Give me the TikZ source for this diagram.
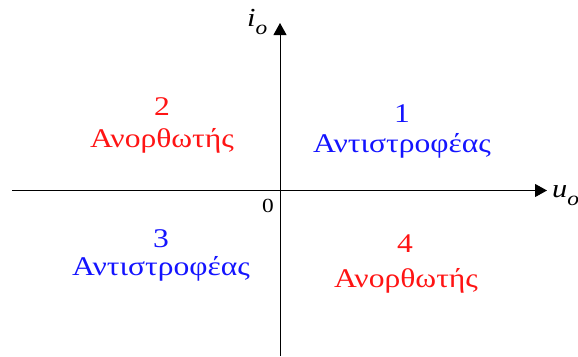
\documentclass[tikz,border=0pt]{standalone}
\usepackage{graphicx}
\usepackage{fontspec}
\setmainfont{Liberation Serif}
\newfontfamily\grkfont[Script=Greek]{Liberation Serif}
\usetikzlibrary{arrows.meta}
\definecolor{qblue}{RGB}{20,20,255}
\definecolor{qred}{RGB}{255,20,20}
\newcommand{\widetxt}[1]{\scalebox{1.17}[1]{#1}}
\begin{document}
\begin{tikzpicture}[x=1pt,y=-1pt,
  axis/.style={line width=1pt,-{Triangle[length=12pt,width=13pt]}},
  lbl/.style={font=\grkfont\fontsize{27}{30}\selectfont,inner sep=0pt,anchor=base},
  ax/.style={font=\fontsize{26}{28}\selectfont\itshape,inner sep=0pt,anchor=base west}]
\useasboundingbox (0,0) rectangle (578,356);
\coordinate (ybot) at (280,356);
\coordinate (ytop) at (280,23);
\coordinate (xl) at (12,190.5);
\coordinate (xr) at (547,190.5);
\draw[axis] (ybot) -- (ytop);
\draw[axis] (xl) -- (xr);
\node[ax] (io) at (247,27) {\widetxt{i\raisebox{-8pt}{\fontsize{20}{20}\selectfont o}}};
\node[ax] (uo) at (552,197) {\widetxt{u\raisebox{-8pt}{\fontsize{20}{20}\selectfont o}}};
\node[font=\fontsize{20}{22}\selectfont,inner sep=0pt,anchor=base] (zero) at (268,212) {\widetxt{0}};
\node[lbl,text=qred] (n2) at (162,115) {\widetxt{2}};
\node[lbl,text=qred] (w2) at (162,147) {\widetxt{Ανορθωτής}};
\node[lbl,text=qblue] (n1) at (402,122) {\widetxt{1}};
\node[lbl,text=qblue] (w1) at (402,152) {\widetxt{Αντιστροφέας}};
\node[lbl,text=qblue] (n3) at (161,247) {\widetxt{3}};
\node[lbl,text=qblue] (w3) at (161,275) {\widetxt{Αντιστροφέας}};
\node[lbl,text=qred] (n4) at (405,252) {\widetxt{4}};
\node[lbl,text=qred] (w4) at (406,287) {\widetxt{Ανορθωτής}};
\end{tikzpicture}
\end{document}
